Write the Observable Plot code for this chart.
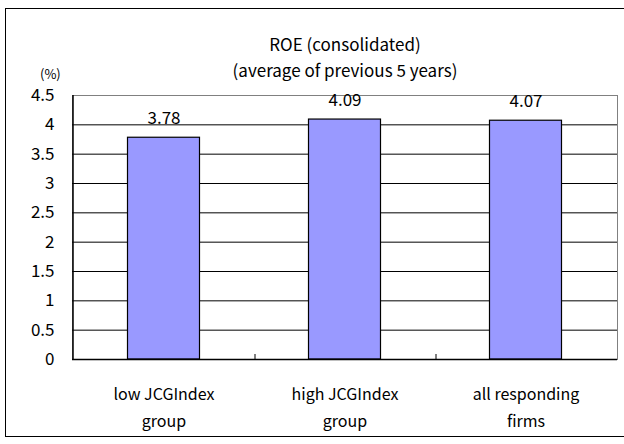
<!DOCTYPE html>
<html>
<head>
<meta charset="utf-8">
<script src="https://cdn.jsdelivr.net/npm/d3@7"></script>
<script src="https://cdn.jsdelivr.net/npm/@observablehq/plot@0.6"></script>
<style>
  html, body { margin: 0; padding: 0; background: #fff; }
  #wrap { position: relative; width: 624px; height: 444px; overflow: hidden; font-family: "Noto Sans CJK JP", sans-serif; color: #000; }
  #border { position: absolute; left: 5px; top: 8px; width: 630px; height: 429px; border: 1.5px solid #000; box-sizing: border-box; }
  .title { position: absolute; text-align: center; font-size: 17px; white-space: nowrap; }
  #t1 { top: 31px; left: 195px; width: 300px; }
  #t2 { top: 57px; left: 195px; width: 300px; }
  #unit { position: absolute; left: 40px; top: 64px; font-size: 13px; }
  #chart { position: absolute; left: 0; top: 0; }
</style>
</head>
<body>
<div id="wrap">
  <div id="border"></div>
  <div id="chart"></div>
  <div class="title" id="t1">ROE (consolidated)</div>
  <div class="title" id="t2">(average of previous 5 years)</div>
  <div id="unit">(%)</div>
</div>
<script>
const categories = ["low JCGIndex group", "high JCGIndex group", "all responding firms"];
const categoryLabels = ["low JCGIndex\ngroup", "high JCGIndex\ngroup", "all responding\nfirms"];
const roeValues = [3.78, 4.09, 4.07];
const yTicks = [0, 0.5, 1, 1.5, 2, 2.5, 3, 3.5, 4, 4.5];
const gridTicks = [0.5, 1, 1.5, 2, 2.5, 3, 3.5, 4];

const data = categories.map((c, i) => ({category: c, value: roeValues[i]}));
const labelOf = new Map(categories.map((c, i) => [c, categoryLabels[i]]));

const chart = Plot.plot({
  width: 624,
  height: 444,
  marginLeft: 72,
  marginRight: 7,
  marginTop: 95,
  marginBottom: 85,
  style: {fontFamily: "'Noto Sans CJK JP', sans-serif", fontSize: "17px", background: "transparent", color: "#000"},
  x: {type: "band", domain: categories, padding: 0, label: null},
  y: {domain: [0, 4.5], label: null},
  marks: [
    Plot.frame({stroke: "#808080", strokeWidth: 1}),
    Plot.gridY(gridTicks, {stroke: "#000", strokeOpacity: 1, strokeWidth: 1}),
    Plot.barY(data, {x: "category", y: "value", fill: "#9999FF", stroke: "#000", strokeWidth: 1.2, insetLeft: 54.5, insetRight: 54.5}),
    Plot.text(data, {x: "category", y: "value", text: d => d.value.toFixed(2), dy: -14, lineAnchor: "bottom", fontSize: 17, fill: "#000"}),
    Plot.ruleY([0], {stroke: "#000", strokeWidth: 1.5}),
    Plot.ruleX([categories[0]], {stroke: "#000", strokeWidth: 1.5, dx: -91}),
    Plot.ruleX(categories.slice(0, 2), {y1: 0, y2: 0, insetTop: -5, dx: 91, stroke: "#000", strokeWidth: 1}),
    Plot.axisY(yTicks, {tickSize: 0, tickPadding: 18, tickFormat: d => String(d), fontSize: 17, label: null}),
    Plot.axisX({tickSize: 0, tickPadding: 21, tickFormat: d => labelOf.get(d), fontSize: 16, lineHeight: 1.7, label: null})
  ]
});
document.getElementById("chart").appendChild(chart);
</script>
</body>
</html>
